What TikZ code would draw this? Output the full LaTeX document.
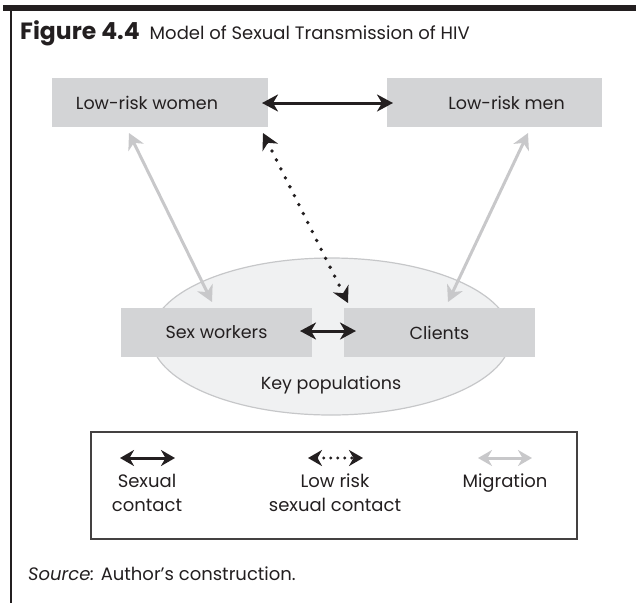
\documentclass[tikz,border=0pt]{standalone}
\usepackage{fontspec}
\setmainfont{Poppins}
\usetikzlibrary{arrows.meta,shapes.geometric}
\definecolor{boxgray}{HTML}{D3D4D6}
\definecolor{ellfill}{HTML}{F0F1F2}
\definecolor{ellline}{HTML}{C6C7C9}
\definecolor{miggray}{HTML}{C8C8CA}
\definecolor{txt}{HTML}{231F20}
\begin{document}
\begin{tikzpicture}[x=1pt,y=-1pt,
  every node/.style={text=txt},
  popbox/.style={fill=boxgray,draw=none,minimum height=49pt,inner sep=0pt,font=\fontsize{17.5}{20}\selectfont},
  sexarrow/.style={draw=txt,line width=3pt,{Stealth[length=16pt,width=17pt,inset=5pt]}-{Stealth[length=16pt,width=17pt,inset=5pt]}},
  lowarrow/.style={draw=txt,line width=3.8pt,dash pattern=on 0pt off 10pt,line cap=round,{Stealth[length=16pt,width=17pt,inset=5pt]}-{Stealth[length=16pt,width=17pt,inset=5pt]}},
  migarrow/.style={draw=miggray,line width=3pt,{Stealth[length=16pt,width=17pt,inset=5pt]}-{Stealth[length=16pt,width=17pt,inset=5pt]}},
  legsex/.style={draw=txt,line width=3pt,{Stealth[length=14pt,width=16pt,inset=4.5pt]}-{Stealth[length=14pt,width=16pt,inset=4.5pt]}},
  leglow/.style={draw=txt,line width=3.4pt,dash pattern=on 0pt off 7pt,line cap=round,{Stealth[length=14pt,width=16pt,inset=4.5pt]}-{Stealth[length=14pt,width=16pt,inset=4.5pt]}},
  legmig/.style={draw=miggray,line width=3pt,{Stealth[length=14pt,width=16pt,inset=4.5pt]}-{Stealth[length=14pt,width=16pt,inset=4.5pt]}},
  legtext/.style={font=\fontsize{18}{24}\selectfont,align=center,anchor=north,inner sep=0pt}
]
\useasboundingbox (0,0) rectangle (636,603);
% frame
\fill[txt] (3,4.5) rectangle (636,10.5);
\draw[txt,line width=1.4pt] (11,10) -- (11,603);
% title
\node[anchor=base west,inner sep=0pt] (title) at (20,39) {{\fontsize{23.5}{26}\selectfont\bfseries Figure 4.4}\hspace{10pt}{\fontsize{18}{22}\selectfont Model of Sexual Transmission of HIV}};
% ellipse
\node[ellipse,fill=ellfill,draw=ellline,line width=1.2pt,minimum width=360pt,minimum height=157pt,inner sep=0pt] (ell) at (331,336.5) {};
\node[font=\fontsize{17.5}{20}\selectfont] (keypop) at (331,385) {Key populations};
% boxes
\node[popbox,minimum width=216pt] (lw) at (160,102.5) {\hspace*{-26pt}Low-risk women};
\node[popbox,minimum width=215pt] (lm) at (494.5,102.5) {\hspace*{24pt}Low-risk men};
\node[popbox,minimum width=191pt] (sw) at (216.5,332) {Sex workers};
\node[popbox,minimum width=191pt] (cl) at (439.5,332.5) {Clients};
% coordinates for connectors
\coordinate (lwa) at (262,103);
\coordinate (lma) at (393,103);
\coordinate (swa) at (300,331);
\coordinate (cla) at (356,331);
\coordinate (lwm) at (129,133);
\coordinate (swm) at (212,302);
\coordinate (lmm) at (528,133);
\coordinate (clm) at (448,302);
\coordinate (lwd) at (263,133);
\coordinate (cld) at (348,303);
% connectors
\draw[sexarrow] (lwa) -- (lma);
\draw[sexarrow] (swa) -- (cla);
\draw[migarrow] (lwm) -- (swm);
\draw[migarrow] (lmm) -- (clm);
\draw[lowarrow] (lwd) -- (cld);
% legend
\node[draw=txt!85,line width=1.4pt,minimum width=486pt,minimum height=107pt,inner sep=0pt] (legend) at (334,485.5) {};
\coordinate (l1a) at (120,458); \coordinate (l1b) at (175,458);
\coordinate (l2a) at (308,458); \coordinate (l2b) at (363,458);
\coordinate (l3a) at (478,458); \coordinate (l3b) at (532,458);
\draw[legsex] (l1a) -- (l1b);
\draw[leglow] (l2a) -- (l2b);
\draw[legmig] (l3a) -- (l3b);
\node[legtext] (t1) at (147,474) {Sexual\\contact};
\node[legtext] (t2) at (335,474) {Low risk\\sexual contact};
\node[legtext] (t3) at (505,474) {Migration};
% source
\node[anchor=base west,inner sep=0pt,font=\fontsize{18}{20}\selectfont] (src) at (28,580) {\textit{Source:} Author’s construction.};
\end{tikzpicture}
\end{document}
